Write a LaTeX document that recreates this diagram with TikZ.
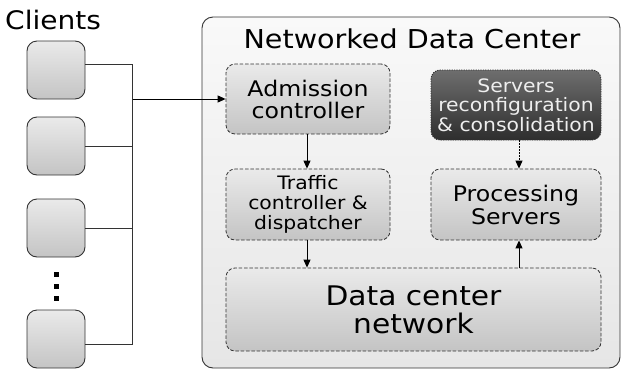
\documentclass[tikz,border=0pt]{standalone}
\usepackage{fontspec}
\setmainfont{DejaVu Sans}[FakeStretch=1.1]
\usetikzlibrary{arrows.meta}
\definecolor{bordc}{HTML}{333333}
\definecolor{outtop}{HTML}{F9F9F9}
\definecolor{outbot}{HTML}{E6E6E6}
\definecolor{boxtop}{HTML}{EAEAEA}
\definecolor{boxbot}{HTML}{C4C4C4}
\definecolor{darktop}{HTML}{6E6E6E}
\definecolor{darkbot}{HTML}{2E2E2E}
\definecolor{darktxt}{HTML}{EEEEEE}
\tikzset{
  clientbox/.style={draw=bordc, line width=0.9pt, rounded corners=10pt,
    top color=boxtop, bottom color=boxbot, minimum width=58pt, minimum height=58pt, inner sep=0pt},
  dcbox/.style={draw=bordc, line width=0.8pt, dash pattern=on 3.5pt off 1.8pt, rounded corners=9pt,
    top color=boxtop, bottom color=boxbot, inner sep=0pt, align=center},
  darkbox/.style={draw=black!80, line width=0.9pt, dash pattern=on 1.2pt off 1.2pt, rounded corners=9pt,
    top color=darktop, bottom color=darkbot, inner sep=0pt, align=center, text=darktxt},
  outerbox/.style={draw=bordc, line width=0.9pt, rounded corners=11pt,
    top color=outtop, bottom color=outbot, inner sep=0pt},
  wire/.style={draw=bordc, line width=0.9pt},
  arr/.style={draw=black, line width=0.9pt, -{Triangle[length=8pt,width=7pt]}},
  darr/.style={arr, dash pattern=on 1.5pt off 1.5pt},
  dot/.style={fill=black, minimum size=5pt, inner sep=0pt},
}
\begin{document}
\begin{tikzpicture}[x=1pt,y=-1pt]
\useasboundingbox (0,0) rectangle (621,370);
% Clients
\node[anchor=west, inner sep=0pt, font={\fontsize{25.5}{28}\selectfont}] (clt) at (5,20) {Clients};
\node[clientbox] (c1) at (56,70) {};
\node[clientbox] (c2) at (56,146) {};
\node[clientbox] (c3) at (56,228) {};
\node[clientbox] (c4) at (56,339) {};
\node[dot] (d1) at (56,274) {};
\node[dot] (d2) at (56,286) {};
\node[dot] (d3) at (56,298) {};
% Data center
\node[outerbox, minimum width=418pt, minimum height=351pt] (dc) at (411,192.5) {};
\node[inner sep=0pt, font={\fontsize{26}{30}\selectfont}] (title) at (412,39) {Networked Data Center};
\node[dcbox, minimum width=164pt, minimum height=70pt, font={\fontsize{21.5}{22}\selectfont}] (adm) at (308,99)
  {Admission\\ controller};
\node[darkbox, minimum width=170pt, minimum height=70pt, font={\fontsize{18.5}{19.5}\selectfont}] (rec) at (516,105)
  {Servers\\ reconfiguration\\ \& consolidation};
\node[dcbox, minimum width=164pt, minimum height=71pt, font={\fontsize{18.5}{20}\selectfont}] (traf) at (308,204.5)
  {Traffic\\ controller \&\\ dispatcher};
\node[dcbox, minimum width=170pt, minimum height=71pt, font={\fontsize{21.5}{23}\selectfont}] (proc) at (516,204.5)
  {Processing\\ Servers};
\node[dcbox, minimum width=375pt, minimum height=83pt, font={\fontsize{27}{28}\selectfont}] (net) at (413.5,309.5)
  {Data center\\ network};
% Client wires
\coordinate (bt) at (132.5,64);
\coordinate (bb) at (132.5,344);
\coordinate (bj) at (132.5,99);
\draw[wire] (c1.east |- bt) -- (bt) -- (bb) -- (c4.east |- bb);
\draw[wire] (c2.east) -- (c2.east -| bt);
\draw[wire] (c3.east) -- (c3.east -| bt);
\draw[arr] (bj) -- (adm.west);
% Internal arrows
\draw[arr] ([xshift=-1pt]adm.south) -- ([xshift=-1pt]traf.north);
\draw[arr] ([xshift=-1pt]traf.south) -- ([xshift=-1pt]traf.south |- net.north);
\draw[darr] ([xshift=3pt]rec.south) -- ([xshift=3pt]proc.north);
\draw[arr] ([xshift=3pt]proc.south |- net.north) -- ([xshift=3pt]proc.south);
\end{tikzpicture}
\end{document}
